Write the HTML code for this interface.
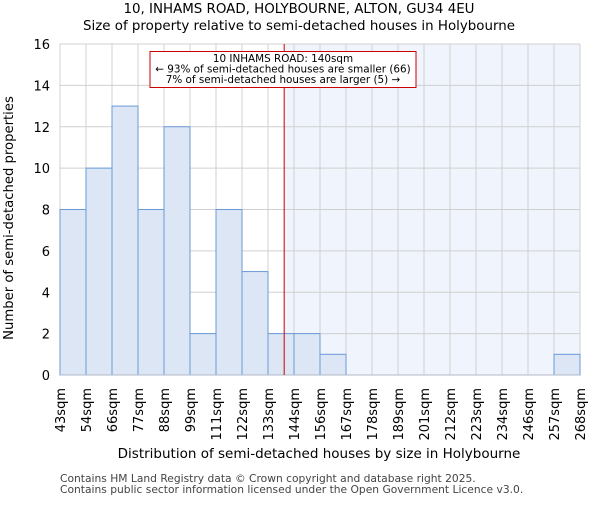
<!DOCTYPE html>
<html><head><meta charset="utf-8"><style>
body{margin:0;background:#fff}
svg{font-family:"DejaVu Sans","Liberation Sans",sans-serif}
</style></head><body>
<svg id="c" width="600" height="500">
<text x="299" y="13" text-anchor="middle" font-size="13.4">10, INHAMS ROAD, HOLYBOURNE, ALTON, GU34 4EU</text>
<text x="299" y="30" text-anchor="middle" font-size="13.4">Size of property relative to semi-detached houses in Holybourne</text>
<g id="plot"></g>
<text x="319" y="458" text-anchor="middle" font-size="13.5">Distribution of semi-detached houses by size in Holybourne</text>
<text transform="translate(13,218) rotate(-90)" text-anchor="middle" font-size="13.2">Number of semi-detached properties</text>
<text x="60" y="482" font-size="10.7" fill="#444">Contains HM Land Registry data © Crown copyright and database right 2025.</text>
<text x="60" y="493" font-size="10.7" fill="#444">Contains public sector information licensed under the Open Government Licence v3.0.</text>
</svg>
<script>
const binLabels=["43sqm","54sqm","66sqm","77sqm","88sqm","99sqm","111sqm","122sqm","133sqm","144sqm","156sqm","167sqm","178sqm","189sqm","201sqm","212sqm","223sqm","234sqm","246sqm","257sqm","268sqm"];
const counts=[8,10,13,8,12,2,8,5,2,2,1,0,0,0,0,0,0,0,0,1];
const yTicks=[0,2,4,6,8,10,12,14,16];
const subjectSize=140, minSize=43, maxSize=268;
const annotLines=["10 INHAMS ROAD: 140sqm","← 93% of semi-detached houses are smaller (66)","7% of semi-detached houses are larger (5) →"];
const L=60,R=580,T=44,B=375,yMax=16;
const NS="http://www.w3.org/2000/svg";
const g=document.getElementById('plot');
const xb=i=>L+i*(R-L)/counts.length;
const y=v=>B-v/yMax*(B-T);
const xs=v=>L+(v-minSize)/(maxSize-minSize)*(R-L);
function mk(t,a,p){const e=document.createElementNS(NS,t);for(const k in a)e.setAttribute(k,a[k]);(p||g).appendChild(e);return e;}
const sx=xs(subjectSize);
let e=mk('rect',{x:sx,y:T,width:R-sx,height:B-T,fill:'#f0f4fc'});


yTicks.forEach(v=>{
 let l=mk('line',{x1:L,x2:R,y1:y(v),y2:y(v),stroke:'#d0d0d0','stroke-width':1});
 
 
 let t=mk('text',{x:L-10,y:y(v)+5,'text-anchor':'end','font-size':13});
 t.textContent=v;
 
 
});
binLabels.forEach((s,i)=>{
 let l=mk('line',{x1:xb(i),x2:xb(i),y1:T,y2:B,stroke:'#d0d0d0','stroke-width':1});
 
 
 let t=mk('text',{transform:`translate(${xb(i)+5},${B+13}) rotate(-90)`,'text-anchor':'end','font-size':13});
 t.textContent=s;
 
 
});
counts.forEach((c,i)=>{
 if(!c)return;
 let r=mk('rect',{x:xb(i),y:y(c),width:xb(i+1)-xb(i),height:B-y(c),fill:'#dce6f4',stroke:'#6a9ad8','stroke-width':1});
 
 
});
e=mk('line',{x1:L,x2:R,y1:B,y2:B,stroke:'#b0b8c8','stroke-width':1});


e=mk('line',{x1:sx,x2:sx,y1:T,y2:B,stroke:'#cc0000','stroke-width':1});


e=mk('rect',{x:150,y:51.5,width:266,height:36,fill:'#fff',stroke:'#cc0000','stroke-width':1});


annotLines.forEach((s,i)=>{
 let t=mk('text',{x:283,y:62+i*10.6,'text-anchor':'middle','font-size':10.4});
 t.textContent=s;
 
 
});
</script>
</body></html>
